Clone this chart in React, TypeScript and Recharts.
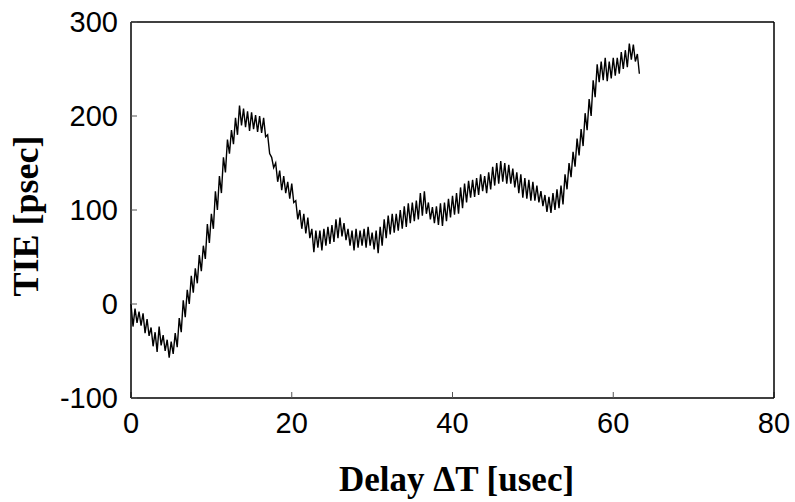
import { LineChart, Line, XAxis, YAxis, Label } from "recharts";

// delay axis step (usec) between successive peaks of the trace
const step = 0.5;

// upper swing of the TIE trace (psec), one value per 0.5 usec from 0
const tieHigh = [
  0, -5, -8, -10, -16, -25, -30, -24, -33, -38, -40, -31, -15, 4, 15, 30, 38, 52, 62, 85,
  96, 120, 136, 156, 175, 185, 198, 211, 208, 205, 204, 201, 200, 198, 180, 156, 150, 142, 136, 130,
  128, 110, 100, 96, 92, 80, 78, 78, 80, 82, 84, 90, 92, 86, 80, 78, 80, 78, 80, 82,
  76, 78, 82, 90, 94, 96, 96, 100, 104, 107, 108, 110, 118, 120, 108, 103, 104, 107, 108, 112,
  115, 118, 124, 128, 131, 132, 134, 138, 136, 140, 146, 150, 152, 150, 148, 144, 140, 138, 134, 132,
  130, 126, 120, 116, 114, 118, 122, 126, 138, 150, 162, 176, 186, 203, 218, 238, 255, 258, 262, 258,
  262, 262, 268, 270, 277, 276, 266,
];

// lower swing of the TIE trace (psec), same spacing, offset by a quarter step
const tieLow = [
  -24, -20, -23, -31, -34, -45, -51, -44, -50, -57, -53, -46, -30, -14, 0, 12, 22, 35, 48, 65,
  80, 100, 118, 140, 160, 170, 180, 190, 188, 184, 186, 183, 182, 178, 160, 145, 130, 121, 118, 112,
  108, 90, 80, 75, 70, 55, 60, 57, 62, 64, 66, 70, 72, 68, 62, 57, 60, 62, 60, 62,
  58, 54, 62, 70, 74, 76, 78, 80, 82, 86, 88, 90, 94, 96, 90, 86, 84, 83, 88, 92,
  95, 96, 102, 108, 113, 114, 116, 120, 118, 122, 126, 128, 130, 128, 128, 124, 118, 113, 112, 110,
  110, 108, 104, 98, 97, 100, 102, 106, 122, 135, 146, 158, 168, 185, 200, 220, 236, 238, 237, 240,
  243, 245, 250, 252, 260, 258, 245,
];

const xTicks = [0, 20, 40, 60, 80];
const yTicks = [-100, 0, 100, 200, 300];

const data = tieHigh.flatMap((hi, i) => [
  { t: i * step, v: hi },
  { t: i * step + step / 2, v: tieLow[i] },
]);

const tickFont = { fontFamily: "'Liberation Sans', Arial, sans-serif", fontSize: 29, fill: "#000" };
const titleFont = "'Liberation Serif', 'Times New Roman', serif";
const frame = { stroke: "#000", strokeWidth: 1.5 };
const tickStroke = { stroke: "#555" };

const App = () => {
  return (
    <div style={{ position: "absolute", left: 0, top: 0, background: "#fff" }}>
      <LineChart
        width={795}
        height={502}
        data={data}
        margin={{ top: 21, right: 20, left: 31, bottom: 54 }}
      >
        <XAxis
          dataKey="t"
          type="number"
          domain={[0, 80]}
          ticks={xTicks}
          interval={0}
          height={50}
          tickSize={-6}
          tickMargin={20}
          tick={tickFont}
          axisLine={frame}
          tickLine={tickStroke}
        >
          <Label
            value="Delay ΔT [usec]"
            position="bottom"
            offset={18}
            dx={4}
            style={{ fontFamily: titleFont, fontWeight: "bold", fontSize: 35, fill: "#000" }}
          />
        </XAxis>
        <XAxis
          xAxisId="top"
          orientation="top"
          dataKey="t"
          type="number"
          domain={[0, 80]}
          ticks={xTicks}
          interval={0}
          height={1}
          tickSize={-6}
          tick={false}
          axisLine={frame}
          tickLine={tickStroke}
        />
        <YAxis
          type="number"
          domain={[-100, 300]}
          ticks={yTicks}
          interval={0}
          width={100}
          tickSize={-6}
          tickMargin={19}
          tick={tickFont}
          axisLine={frame}
          tickLine={tickStroke}
        >
          <Label
            value="TIE [psec]"
            position="center"
            angle={-90}
            dx={-56}
            dy={6}
            style={{ fontFamily: titleFont, fontWeight: "bold", fontSize: 36, fill: "#000" }}
          />
        </YAxis>
        <YAxis
          yAxisId="right"
          orientation="right"
          type="number"
          domain={[-100, 300]}
          ticks={yTicks}
          interval={0}
          width={1}
          tickSize={-6}
          tick={false}
          axisLine={frame}
          tickLine={tickStroke}
        />
        <Line
          dataKey="v"
          type="linear"
          stroke="#000"
          strokeWidth={1.4}
          dot={false}
          isAnimationActive={false}
        />
        <Line
          dataKey="v"
          xAxisId="top"
          yAxisId="right"
          type="linear"
          stroke="none"
          dot={false}
          legendType="none"
          isAnimationActive={false}
        />
      </LineChart>
    </div>
  );
};

export default App;
